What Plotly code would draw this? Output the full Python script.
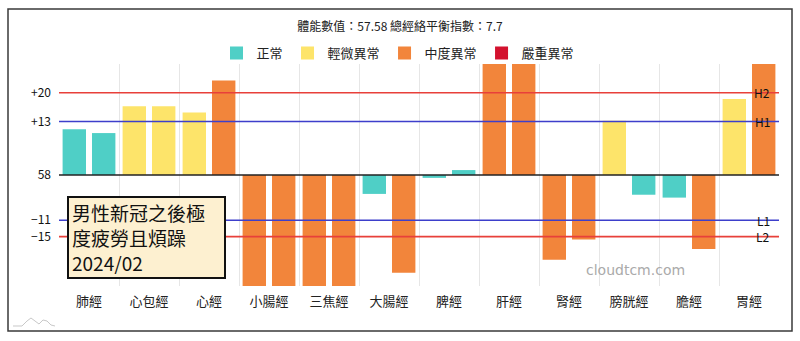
import plotly.graph_objects as go

categories = ["肺經", "心包經", "心經", "小腸經", "三焦經", "大腸經", "脾經", "肝經", "腎經", "膀胱經", "膽經", "胃經"]
left_vals = [11.1, 16.7, 15.2, -30, -30, -4.6, -0.7, 30, -20.6, 13.2, -5.5, 18.5]
right_vals = [10.2, 16.7, 23.0, -30, -30, -23.8, 1.2, 30, -15.7, -4.8, -18.0, 30]
left_status = ["正常", "輕微異常", "輕微異常", "中度異常", "中度異常", "正常", "正常", "中度異常", "中度異常", "輕微異常", "正常", "輕微異常"]
right_status = ["正常", "輕微異常", "中度異常", "中度異常", "中度異常", "中度異常", "正常", "中度異常", "中度異常", "正常", "中度異常", "中度異常"]
status_names = ["正常", "輕微異常", "中度異常", "嚴重異常"]
status_colors = {"正常": "#4FCFC6", "輕微異常": "#FDE46A", "中度異常": "#F2853B", "嚴重異常": "#D3112E"}

ref_vals = [20, 13, -11, -15]
ref_labels = ["H2", "H1", "L1", "L2"]
ref_colors = ["#E8403A", "#3D3FCB", "#3D3FCB", "#E8403A"]
ytick_vals = [20, 13, 0, -11, -15]
ytick_text = ["+20", "+13", "58", "−11", "−15"]
title_text = "體能數值：57.58 總經絡平衡指數：7.7"
note_text = "男性新冠之後極<br>度疲勞且煩躁<br>2024/02"

FONT = "Noto Sans CJK TC"
PL, PT, PW, PH = 59, 64, 720, 222  # plot area in pixels


def px_x(x):
    return (x - PL) / PW


def px_y(y):
    return (PT + PH - y) / PH


fig = go.Figure()
fig.add_trace(go.Bar(x=categories, y=left_vals, width=0.39, offset=-0.44,
                     marker=dict(color=[status_colors[s] for s in left_status], line=dict(width=0)),
                     showlegend=False))
fig.add_trace(go.Bar(x=categories, y=right_vals, width=0.39, offset=0.05,
                     marker=dict(color=[status_colors[s] for s in right_status], line=dict(width=0)),
                     showlegend=False))
for s in status_names:
    fig.add_trace(go.Scatter(x=[None], y=[None], mode="markers", name=s,
                             marker=dict(symbol="square", size=13, color=status_colors[s])))

shapes = []
for v, c in zip(ref_vals, ref_colors):
    shapes.append(dict(type="line", xref="paper", yref="y", x0=0, x1=1, y0=v, y1=v,
                       line=dict(color=c, width=1.6), layer="above"))
shapes.append(dict(type="line", xref="paper", yref="y", x0=0, x1=1, y0=0, y1=0,
                   line=dict(color="#222", width=1.5), layer="above"))
# outer frame
shapes.append(dict(type="rect", xref="paper", yref="paper",
                   x0=px_x(8), x1=px_x(792), y0=px_y(331), y1=px_y(9),
                   line=dict(color="#3a3a3a", width=1.5), layer="below"))
# small logo in bottom-left corner
pts = [(13, 326), (22, 326), (27, 321), (31, 318), (35, 321), (39, 324), (43, 320), (47, 321), (51, 325), (55, 326)]
path = "M " + " L ".join(f"{px_x(x):.5f},{px_y(y):.5f}" for x, y in pts)
shapes.append(dict(type="path", xref="paper", yref="paper", path=path,
                   line=dict(color="#C8C8C8", width=1), layer="below"))

annotations = []
for v, t in zip(ref_vals, ref_labels):
    annotations.append(dict(x=px_x(772), xref="paper", y=v, yref="y", text=t,
                            showarrow=False, xanchor="right", yanchor="middle",
                            font=dict(family=FONT, size=12, color="#111")))
annotations.append(dict(x=px_x(67), xref="paper", y=px_y(196), yref="paper",
                        text=note_text, showarrow=False, xanchor="left", yanchor="top",
                        align="left", valign="middle", bgcolor="#FDF0D0", bordercolor="#111",
                        borderwidth=2, borderpad=3, width=149, height=73,
                        font=dict(family=FONT, size=19, color="#111")))
annotations.append(dict(x=px_x(635), xref="paper", y=px_y(270), yref="paper",
                        text="cloudtcm.com", showarrow=False, xanchor="center", yanchor="middle",
                        font=dict(family="DejaVu Sans", size=14, color="#AAAAAA")))

fig.update_layout(
    width=800, height=341,
    margin=dict(l=PL, r=800 - PL - PW, t=PT, b=341 - PT - PH),
    paper_bgcolor="white", plot_bgcolor="white",
    barmode="overlay",
    title=dict(text=title_text, x=0.5, xref="container", xanchor="center",
               y=1 - 27 / 341, yref="container", yanchor="middle",
               font=dict(family=FONT, size=12, color="#222")),
    legend=dict(orientation="h", x=px_x(398), xanchor="center", y=px_y(53), yanchor="middle",
                font=dict(family=FONT, size=13, color="#222"), itemwidth=30,
                tracegroupgap=0, bgcolor="rgba(0,0,0,0)"),
    xaxis=dict(type="category", categoryorder="array", categoryarray=categories,
               tickson="boundaries", showgrid=True, gridcolor="#E6E6E6", gridwidth=1,
               ticks="", showline=False, zeroline=False,
               tickfont=dict(family=FONT, size=13, color="#222"), ticklabelstandoff=6),
    yaxis=dict(range=[-27, 27], tickvals=ytick_vals, ticktext=ytick_text,
               showgrid=False, zeroline=False, showline=False, ticks="",
               tickfont=dict(family=FONT, size=12, color="#111"), ticklabelstandoff=7),
    shapes=shapes, annotations=annotations,
    showlegend=True,
)

fig.write_html("out.html")
